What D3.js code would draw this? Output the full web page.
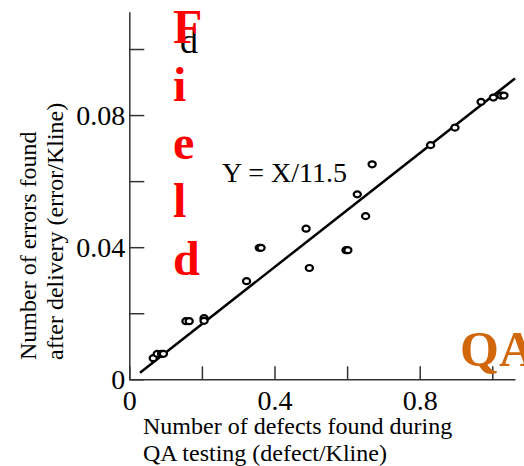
<!DOCTYPE html>
<html>
<head>
<meta charset="utf-8">
<script src="https://cdn.jsdelivr.net/npm/d3@7"></script>
<style>
  body { margin: 0; background: #fff; }
  svg { display: block; }
  svg text { font-family: "Liberation Serif", "Times New Roman", serif; }
</style>
</head>
<body>
<div id="chart"></div>
<script>
// QA defects vs. field errors (per Kline)
const defectsQA = [0.066, 0.077, 0.089, 0.094, 0.156, 0.165, 0.206, 0.206, 0.323, 0.358, 0.363,
                   0.487, 0.496, 0.597, 0.602, 0.628, 0.651, 0.669, 0.830, 0.897, 0.969, 1.003, 1.024, 1.032];
const errorsField = [0.0064, 0.0077, 0.0077, 0.0077, 0.0176, 0.0176, 0.0185, 0.0177, 0.0297, 0.0398, 0.0398,
                     0.0456, 0.0337, 0.0391, 0.0391, 0.0560, 0.0494, 0.0651, 0.0709, 0.0762, 0.0840, 0.0853, 0.0859, 0.0859];

// fitted line Y = X/11.5 (ends as drawn)
const fitX = [0.0295, 1.0625];
const fitY = [0.0020, 0.0911];

const xTicks = [0, 0.2, 0.4, 0.6, 0.8, 1.0];
const xTickLabels = ["0", "", "0.4", "", "0.8", ""];
const yTicks = [0, 0.02, 0.04, 0.06, 0.08, 0.10];
const yTickLabels = ["0", "", "0.04", "", "0.08", ""];

const fieldLetters = ["F", "i", "e", "l", "d"];

const serif = "Liberation Serif";
const width = 524, height = 466;

const svg = d3.select("#chart").append("svg")
    .attr("width", width)
    .attr("height", height);

// scales
const x = d3.scaleLinear().domain([0, 1.0625]).range([129.3, 515]);
const y = d3.scaleLinear().domain([0, 0.1113]).range([379.3, 11.7]);

// x axis (ticks point inward)
const xAxis = d3.axisBottom(x)
    .tickValues(xTicks)
    .tickSizeInner(-13)
    .tickSizeOuter(0)
    .tickPadding(11)
    .tickFormat((d, i) => xTickLabels[i]);

const gx = svg.append("g")
    .attr("transform", `translate(0,${y(0)})`)
    .call(xAxis);

// y axis
const yAxis = d3.axisLeft(y)
    .tickValues(yTicks)
    .tickSizeInner(-15)
    .tickSizeOuter(0)
    .tickPadding(4)
    .tickFormat((d, i) => yTickLabels[i]);

const gy = svg.append("g")
    .attr("transform", `translate(${x(0)},0)`)
    .call(yAxis);

[gx, gy].forEach(g => {
    g.attr("font-family", serif).attr("font-size", 28);
    g.select(".domain").attr("stroke", "#333").attr("stroke-width", 1.5);
    g.selectAll(".tick line").attr("stroke", "#333").attr("stroke-width", 1.5);
    g.selectAll(".tick text").attr("fill", "#000");
});

// axis titles
const xTitle = svg.append("text")
    .attr("font-family", serif)
    .attr("font-size", 24)
    .attr("fill", "#000");
xTitle.append("tspan").attr("x", 143).attr("y", 434).text("Number of defects found during");
xTitle.append("tspan").attr("x", 143).attr("y", 461).text("QA testing (defect/Kline)");

const yTitle = svg.append("text")
    .attr("transform", "translate(0,360) rotate(-90)")
    .attr("font-family", serif)
    .attr("font-size", 24)
    .attr("fill", "#000");
yTitle.append("tspan").attr("x", 0).attr("y", 36).text("Number of errors found");
yTitle.append("tspan").attr("x", 0).attr("y", 63).text("after delivery (error/Kline)");

// stray black "d" behind the red F
svg.append("text")
    .attr("x", 180)
    .attr("y", 53)
    .attr("font-family", serif)
    .attr("font-size", 36)
    .attr("fill", "#000")
    .text("d");

// vertical red "Field"
svg.selectAll(".field")
    .data(fieldLetters)
    .enter().append("text")
    .attr("class", "field")
    .attr("x", 173)
    .attr("y", (d, i) => 43 + i * 58)
    .attr("font-family", serif)
    .attr("font-size", 48)
    .attr("font-weight", "bold")
    .attr("fill", "#ff0000")
    .text(d => d);

// fit line
svg.append("line")
    .attr("x1", x(fitX[0]))
    .attr("y1", y(fitY[0]))
    .attr("x2", x(fitX[1]))
    .attr("y2", y(fitY[1]))
    .attr("stroke", "#000")
    .attr("stroke-width", 2.5);

// data points
svg.selectAll(".pt")
    .data(defectsQA)
    .enter().append("ellipse")
    .attr("class", "pt")
    .attr("cx", d => x(d))
    .attr("cy", (d, i) => y(errorsField[i]))
    .attr("rx", 3.6)
    .attr("ry", 3.0)
    .attr("fill", "#fff")
    .attr("stroke", "#000")
    .attr("stroke-width", 2.2);

// equation label
svg.append("text")
    .attr("x", 222)
    .attr("y", 182)
    .attr("font-family", serif)
    .attr("font-size", 28)
    .attr("fill", "#000")
    .text("Y = X/11.5");

// orange "QA"
svg.append("text")
    .attr("x", 460)
    .attr("y", 366)
    .attr("font-family", serif)
    .attr("font-size", 50)
    .attr("font-weight", "bold")
    .attr("fill", "#d2660a")
    .text("QA");
</script>
</body>
</html>
